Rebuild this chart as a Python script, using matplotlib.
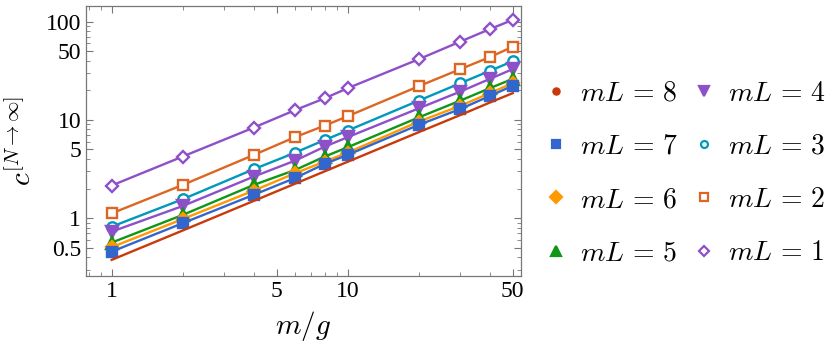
import numpy as np
import matplotlib.pyplot as plt
from matplotlib.ticker import FixedLocator, NullFormatter, FixedFormatter

plt.rcParams['mathtext.fontset'] = 'cm'
plt.rcParams['font.family'] = 'Liberation Serif'

x = [1, 2, 4, 6, 8, 10, 20, 30, 40, 50]
c_mL1 = [2.15, 4.24, 8.35, 12.6, 16.6, 21.0, 41.4, 62.6, 83.7, 104.0]
c_mL2 = [1.12, 2.18, 4.4, 6.7, 8.75, 10.9, 22.0, 32.8, 43.5, 55.3]
c_mL3 = [0.82, 1.56, 3.15, 4.65, 6.26, 7.79, 15.7, 23.6, 31.5, 39.5]
c_mL4 = [0.73, 1.33, 2.65, 3.86, 5.35, 6.67, 13.1, 19.4, 26.1, 32.8]
c_mL5 = [0.565, 1.08, 2.18, 3.1, 4.24, 5.27, 10.6, 15.7, 21.0, 26.1]
c_mL6 = [0.507, 0.98, 1.91, 2.87, 3.77, 4.65, 9.6, 13.9, 18.7, 23.6]
c_mL7 = [0.457, 0.89, 1.73, 2.57, 3.57, 4.41, 8.9, 12.9, 17.5, 22.2]
c_mL8 = [0.377, 0.75, 1.5, 2.25, 3.0, 3.75, 7.5, 11.2, 15.0, 18.7]

# mL, values, colour, marker, filled, marker size
series = [
    (8, c_mL8, '#C83A0A', 'o', True, 5),
    (7, c_mL7, '#3366CC', 's', True, 6.5),
    (6, c_mL6, '#FF9900', 'D', True, 6.5),
    (5, c_mL5, '#119618', '^', True, 8.5),
    (4, c_mL4, '#8E50C8', 'v', True, 8.5),
    (3, c_mL3, '#0099BB', 'o', False, 7.5),
    (2, c_mL2, '#DD6622', 's', False, 7.5),
    (1, c_mL1, '#8E50C8', 'D', False, 6.5),
]

fig = plt.figure(figsize=(8.3, 3.51), dpi=100)
ax = fig.add_axes([0.1036, 0.2145, 0.5241, 0.7685])

handles = []
for mL, y, col, mk, filled, ms in reversed(series):
    fc = col if filled else 'white'
    # the mL=8 points sit under the line and are not visible in the original
    pm = None if mL == 8 else mk
    ax.plot(x, y, color=col, lw=1.7, marker=pm, ms=ms, mfc=fc, mec=col, mew=1.7)
for mL, y, col, mk, filled, ms in series:
    fc = col if filled else 'white'
    lms = {8: 4.5, 3: 5, 2: 5.5, 1: 5.5}.get(mL, 7 if mk in '^v' else 6)
    h, = ax.plot([], [], ls='none', color=col, marker=mk, ms=lms,
                 mfc=fc, mec=col, mew=1.6, label=r'$mL\,=\,%d$' % mL)
    handles.append(h)

ax.set_xscale('log')
ax.set_yscale('log')
ax.set_xlim(0.778, 54.2)
ax.set_ylim(0.26, 144)

xmaj = [1, 5, 10, 50]
ax.xaxis.set_major_locator(FixedLocator(xmaj))
ax.xaxis.set_major_formatter(FixedFormatter(['1', '5', '10', '50']))
xmin = [v * d for d in [0.1, 1, 10] for v in range(1, 10) if v * d not in xmaj]
ax.xaxis.set_minor_locator(FixedLocator(xmin))
ax.xaxis.set_minor_formatter(NullFormatter())

ymaj = [0.5, 1, 5, 10, 50, 100]
ax.yaxis.set_major_locator(FixedLocator(ymaj))
ax.yaxis.set_major_formatter(FixedFormatter(['0.5', '1', '5', '10', '50', '100']))
ymin = [round(v * d, 3) for d in [0.1, 1, 10, 100] for v in range(1, 10)]
ymin = [v for v in ymin if v not in ymaj]
ax.yaxis.set_minor_locator(FixedLocator(ymin))
ax.yaxis.set_minor_formatter(NullFormatter())

ax.tick_params(which='both', direction='in', top=True, right=True, color='#777777', labelsize=17)
ax.tick_params(which='major', length=5, width=0.8)
ax.tick_params(which='minor', length=3, width=0.6)
for s in ax.spines.values():
    s.set_color('#777777')
    s.set_linewidth(0.9)

ax.set_xlabel(r'$m/g$', fontsize=21, labelpad=5)
ax.set_ylabel(r'$c^{[N\to\infty]}$', fontsize=21, labelpad=6)

fig.legend(handles=handles, ncol=2, loc='center left', bbox_to_anchor=(0.630, 0.505),
           frameon=False, fontsize=20, handlelength=0.6, handletextpad=0.55,
           columnspacing=0.65, labelspacing=1.0)

plt.savefig('out.png', dpi=100)
